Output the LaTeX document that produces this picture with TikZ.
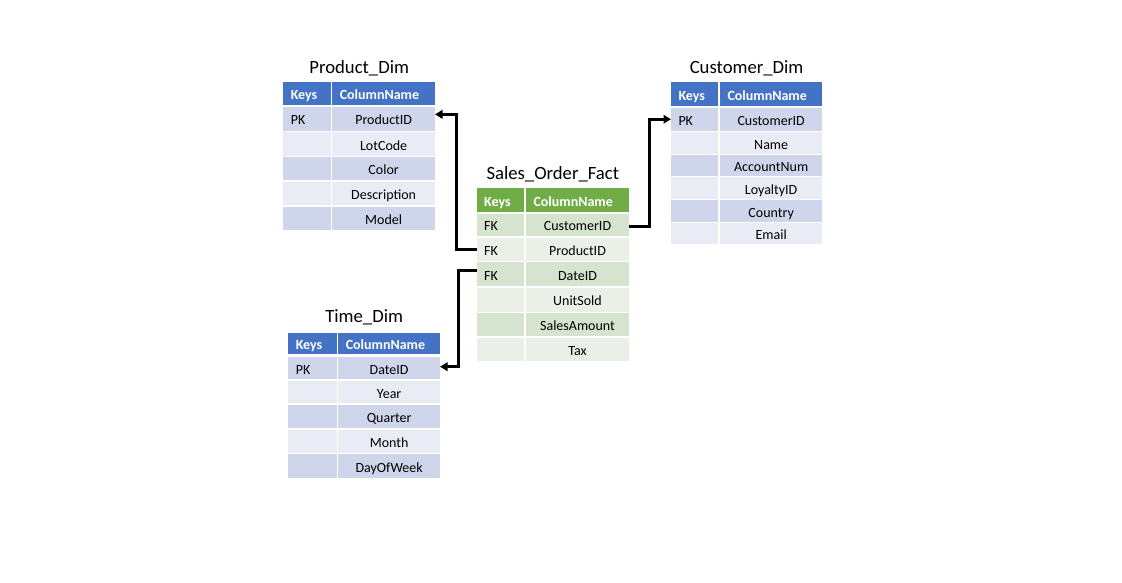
\documentclass[tikz,border=0pt]{standalone}
\usepackage{fontspec}
\setmainfont{Carlito}
\usetikzlibrary{arrows.meta,calc}
\definecolor{bhead}{HTML}{4472C4}
\definecolor{bdark}{HTML}{CFD5EA}
\definecolor{blight}{HTML}{E9EBF5}
\definecolor{ghead}{HTML}{70AD47}
\definecolor{gdark}{HTML}{D5E3CF}
\definecolor{glight}{HTML}{EAEFE8}
\tikzset{
  cellbase/.style={rectangle, inner xsep=7.5pt, inner ysep=0pt, outer sep=0pt,
    text height=12pt, text depth=0pt, font=\fontsize{14}{16}\selectfont, text=black},
  headcell/.style={cellbase, font=\fontsize{14}{16}\selectfont\bfseries, text=white},
  tabtitle/.style={anchor=base, inner sep=0pt, font=\fontsize{18.7}{22}\selectfont},
  conn/.style={line width=3pt, black, -{Triangle[length=7.5pt,width=8.5pt]}},
  connplain/.style={line width=3pt, black}
}
% name, x1, y1, x2, y2, style, fill, align, text
\newcommand\tcell[9]{%
  \pgfmathsetmacro\cw{#4-#2}%
  \pgfmathsetmacro\ch{#5-#3}%
  \pgfmathsetmacro\tw{\cw-15}%
  \node[#6, fill=#7, minimum height=\ch pt, text width=\tw pt, align=#8]
    (#1) at ({(#2+#4)/2},{(#3+#5)/2}) {#9};%
}
\begin{document}
\begin{tikzpicture}[x=1pt,y=-1pt]
\useasboundingbox[fill=white] (0,0) rectangle (1122,582);

% ---------- Product_Dim ----------
\node[tabtitle] (ptitle) at (359.2,73.3) {Product\_Dim};
\tcell{p-kh}{283.3}{82.3}{330.7}{105}{headcell}{bhead}{left}{Keys}
\tcell{p-nh}{332.3}{82.3}{435}{105}{headcell}{bhead}{left}{ColumnName}
\tcell{p-k1}{283.3}{106.7}{330.7}{131}{cellbase}{bdark}{left}{PK}
\tcell{p-n1}{332.3}{106.7}{435}{131}{cellbase}{bdark}{center}{ProductID}
\tcell{p-k2}{283.3}{132.3}{330.7}{155.7}{cellbase}{blight}{left}{}
\tcell{p-n2}{332.3}{132.3}{435}{155.7}{cellbase}{blight}{center}{LotCode}
\tcell{p-k3}{283.3}{157.3}{330.7}{180.3}{cellbase}{bdark}{left}{}
\tcell{p-n3}{332.3}{157.3}{435}{180.3}{cellbase}{bdark}{center}{Color}
\tcell{p-k4}{283.3}{181.7}{330.7}{205}{cellbase}{blight}{left}{}
\tcell{p-n4}{332.3}{181.7}{435}{205}{cellbase}{blight}{center}{Description}
\tcell{p-k5}{283.3}{206.7}{330.7}{230}{cellbase}{bdark}{left}{}
\tcell{p-n5}{332.3}{206.7}{435}{230}{cellbase}{bdark}{center}{Model}

% ---------- Sales_Order_Fact ----------
\node[tabtitle] (stitle) at (552.8,179) {Sales\_Order\_Fact};
\tcell{s-kh}{476.7}{188.3}{524.3}{211.7}{headcell}{ghead}{left}{Keys}
\tcell{s-nh}{526}{188.3}{629}{211.7}{headcell}{ghead}{left}{ColumnName}
\tcell{s-k1}{476.7}{213.7}{524.3}{236}{cellbase}{gdark}{left}{FK}
\tcell{s-n1}{526}{213.7}{629}{236}{cellbase}{gdark}{center}{CustomerID}
\tcell{s-k2}{476.7}{237.7}{524.3}{260.7}{cellbase}{glight}{left}{FK}
\tcell{s-n2}{526}{237.7}{629}{260.7}{cellbase}{glight}{center}{ProductID}
\tcell{s-k3}{476.7}{262.3}{524.3}{286}{cellbase}{gdark}{left}{FK}
\tcell{s-n3}{526}{262.3}{629}{286}{cellbase}{gdark}{center}{DateID}
\tcell{s-k4}{476.7}{288}{524.3}{311.7}{cellbase}{glight}{left}{}
\tcell{s-n4}{526}{288}{629}{311.7}{cellbase}{glight}{center}{UnitSold}
\tcell{s-k5}{476.7}{313.3}{524.3}{336}{cellbase}{gdark}{left}{}
\tcell{s-n5}{526}{313.3}{629}{336}{cellbase}{gdark}{center}{SalesAmount}
\tcell{s-k6}{476.7}{337.7}{524.3}{361}{cellbase}{glight}{left}{}
\tcell{s-n6}{526}{337.7}{629}{361}{cellbase}{glight}{center}{Tax}

% ---------- Customer_Dim ----------
\node[tabtitle] (ctitle) at (746.6,73.3) {Customer\_Dim};
\tcell{c-kh}{671}{82.3}{718.3}{105.7}{headcell}{bhead}{left}{Keys}
\tcell{c-nh}{720}{82.3}{822.3}{105.7}{headcell}{bhead}{left}{ColumnName}
\tcell{c-k1}{671}{107.7}{718.3}{130.7}{cellbase}{bdark}{left}{PK}
\tcell{c-n1}{720}{107.7}{822.3}{130.7}{cellbase}{bdark}{center}{CustomerID}
\tcell{c-k2}{671}{132.3}{718.3}{153.7}{cellbase}{blight}{left}{}
\tcell{c-n2}{720}{132.3}{822.3}{153.7}{cellbase}{blight}{center}{Name}
\tcell{c-k3}{671}{155.3}{718.3}{175.7}{cellbase}{bdark}{left}{}
\tcell{c-n3}{720}{155.3}{822.3}{175.7}{cellbase}{bdark}{center}{AccountNum}
\tcell{c-k4}{671}{177.3}{718.3}{199}{cellbase}{blight}{left}{}
\tcell{c-n4}{720}{177.3}{822.3}{199}{cellbase}{blight}{center}{LoyaltyID}
\tcell{c-k5}{671}{200.3}{718.3}{221.7}{cellbase}{bdark}{left}{}
\tcell{c-n5}{720}{200.3}{822.3}{221.7}{cellbase}{bdark}{center}{Country}
\tcell{c-k6}{671}{223.3}{718.3}{244.3}{cellbase}{blight}{left}{}
\tcell{c-n6}{720}{223.3}{822.3}{244.3}{cellbase}{blight}{center}{Email}

% ---------- Time_Dim ----------
\node[tabtitle] (ttitle) at (364.2,322.7) {Time\_Dim};
\tcell{t-kh}{288.3}{333.3}{336.7}{354}{headcell}{bhead}{left}{Keys}
\tcell{t-nh}{338.3}{333.3}{440}{354}{headcell}{bhead}{left}{ColumnName}
\tcell{t-k1}{288.3}{356.7}{336.7}{379.3}{cellbase}{bdark}{left}{PK}
\tcell{t-n1}{338.3}{356.7}{440}{379.3}{cellbase}{bdark}{center}{DateID}
\tcell{t-k2}{288.3}{381}{336.7}{403.3}{cellbase}{blight}{left}{}
\tcell{t-n2}{338.3}{381}{440}{403.3}{cellbase}{blight}{center}{Year}
\tcell{t-k3}{288.3}{405}{336.7}{428.3}{cellbase}{bdark}{left}{}
\tcell{t-n3}{338.3}{405}{440}{428.3}{cellbase}{bdark}{center}{Quarter}
\tcell{t-k4}{288.3}{430}{336.7}{452.7}{cellbase}{blight}{left}{}
\tcell{t-n4}{338.3}{430}{440}{452.7}{cellbase}{blight}{center}{Month}
\tcell{t-k5}{288.3}{454}{336.7}{478.3}{cellbase}{bdark}{left}{}
\tcell{t-n5}{338.3}{454}{440}{478.3}{cellbase}{bdark}{center}{DayOfWeek}

% ---------- connectors ----------
\coordinate (pbend) at (456.5,200);
\coordinate (cbend) at (649.3,200);
\coordinate (tbend) at (458,300);
\draw[conn] (s-k2.west) -- (s-k2.west -| pbend) |- ([yshift=4.5pt]p-n1.east);
\draw[conn] ([yshift=-1.8pt]s-n1.east) -- ([yshift=-1.8pt]s-n1.east -| cbend) |- (c-k1.west);
\draw[conn] ([yshift=4pt]s-k3.west) -- ([yshift=4pt]s-k3.west -| tbend) |- ([yshift=1.3pt]t-n1.east);
\end{tikzpicture}
\end{document}
